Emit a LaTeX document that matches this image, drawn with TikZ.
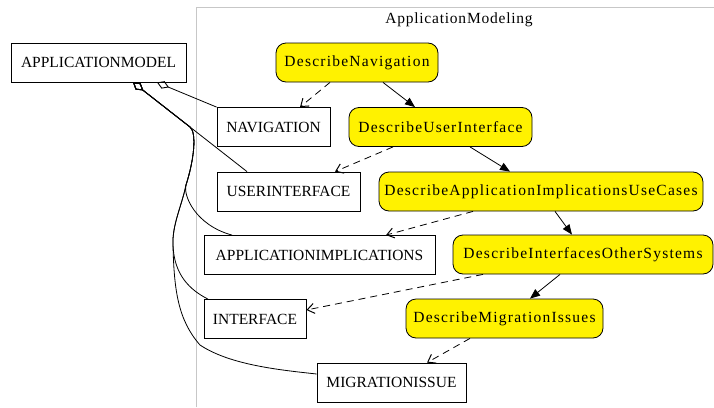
\documentclass[tikz,border=0pt]{standalone}
\usepackage{fontspec}
\setmainfont{Liberation Serif}
\newfontfamily\spacedfont[LetterSpace=8]{Liberation Serif}
\newfontfamily\titlefont[LetterSpace=5]{Liberation Serif}
\usetikzlibrary{arrows.meta}
\begin{document}
\begin{tikzpicture}[x=1pt,y=-1pt,
  entity/.style={draw, line width=0.8pt, fill=white, inner sep=0pt, minimum height=39pt,
    font=\fontsize{15.5}{18}\selectfont},
  activity/.style={draw, line width=0.8pt, fill=yellow, rounded corners=10pt, inner sep=0pt,
    minimum height=39pt, font=\spacedfont\fontsize{15.5}{18}\selectfont},
  flow/.style={draw, line width=0.8pt, -{Triangle[length=10pt,width=8pt]}},
  produce/.style={draw, line width=0.8pt, dash pattern=on 7pt off 5pt,
    -{Straight Barb[length=7pt,width=10pt,line width=1pt]}},
  agg/.style={draw, line width=0.8pt, {Diamond[open,length=13pt,width=8pt,line width=0.9pt]}-},
  cluster/.style={draw=black!22, line width=0.8pt}
]
\useasboundingbox (0,0) rectangle (714,407);
\draw[cluster] (196,407) -- (196,7) -- (714,7);
\node[font=\titlefont\fontsize{15.5}{18}\selectfont] (title) at (459,20) {ApplicationModeling};

% entities
\node[entity, minimum width=175pt] (am) at (98.5,62.5) {APPLICATIONMODEL};
\node[entity, minimum width=113pt] (nav) at (273.5,127) {NAVIGATION};
\node[entity, minimum width=143pt] (ui) at (288.5,191.5) {USERINTERFACE};
\node[entity, minimum width=231pt] (ai) at (319.5,255) {APPLICATIONIMPLICATIONS};
\node[entity, minimum width=102pt] (if) at (255,319) {INTERFACE};
\node[entity, minimum width=149pt] (mi) at (391.5,382.5) {MIGRATIONISSUE};

% activities
\node[activity, minimum width=162pt] (dn) at (357,62.5) {DescribeNavigation};
\node[activity, minimum width=183pt] (dui) at (440.5,127) {DescribeUserInterface};
\node[activity, minimum width=324pt] (dai) at (541,191.5) {DescribeApplicationImplicationsUseCases};
\node[activity, minimum width=260pt] (dios) at (583,254.5) {DescribeInterfacesOtherSystems};
\node[activity, minimum width=197pt] (dmi) at (504.5,318.5) {DescribeMigrationIssues};

% control flow
\draw[flow] ([xshift=26pt]dn.south) -- ([xshift=-25.5pt]dui.north);
\draw[flow] ([xshift=29.5pt]dui.south) -- ([xshift=-31pt]dai.north);
\draw[flow] ([xshift=14pt]dai.south) -- ([xshift=-11pt]dios.north);
\draw[flow] ([xshift=-23pt]dios.south) -- ([xshift=25.5pt]dmi.north);

% object flow
\draw[produce] ([xshift=-27pt]dn.south) -- ([xshift=26.5pt]nav.north);
\draw[produce] ([xshift=-47.5pt]dui.south) -- ([xshift=46.5pt]ui.north);
\draw[produce] ([xshift=-68pt]dai.south) -- ([xshift=66.5pt]ai.north);
\draw[produce] ([xshift=-100pt]dios.south) -- ([yshift=9pt]if.east);
\draw[produce] ([xshift=-34.5pt]dmi.south) -- ([xshift=35.5pt]mi.north);

% aggregation
\draw[agg] ([xshift=58.5pt]am.south) -- (nav.north west);
\draw[agg] ([xshift=34.5pt]am.south) -- ([xshift=-41.5pt]ui.north);
\draw[agg] ([xshift=34.5pt]am.south) -- (190,127)
  .. controls (197,133) and (194,160) .. (186,185)
  .. controls (183,195) and (195,225) .. ([xshift=-87.5pt]ai.north);
\draw[agg] ([xshift=34.5pt]am.south) -- (190,127)
  .. controls (197,133) and (194,160) .. (186,185)
  .. controls (182,205) and (172,225) .. (173,245)
  .. controls (174,275) and (190,290) .. ([xshift=-47pt]if.north);
\draw[agg] ([xshift=34.5pt]am.south) -- (190,127)
  .. controls (197,133) and (194,160) .. (186,185)
  .. controls (182,205) and (172,225) .. (173,245)
  .. controls (174,290) and (178,320) .. (200,345)
  .. controls (230,365) and (280,370) .. ([yshift=8.5pt]mi.west);
\end{tikzpicture}
\end{document}
